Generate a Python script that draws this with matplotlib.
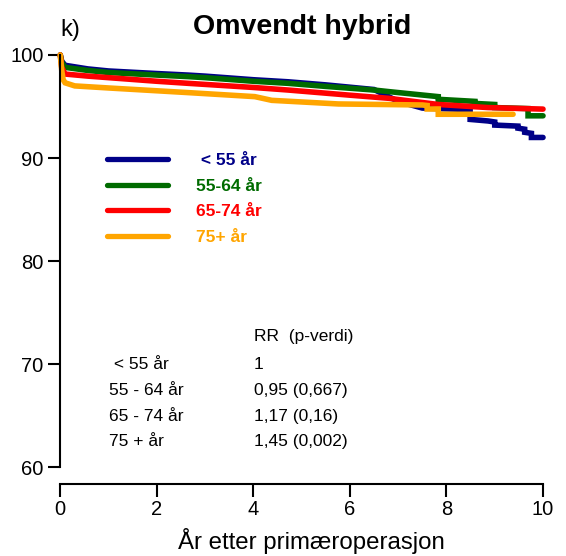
import matplotlib
matplotlib.use("Agg")
import matplotlib.pyplot as plt

plt.rcParams['font.family'] = ['Liberation Sans', 'DejaVu Sans']

# Survival (% without revision) per age group.
# Repeated time values mark the visible vertical steps.
t_lt55 = [0, 0.03, 0.1, 0.57, 1, 2, 2.65, 3, 4, 4.72, 5.5, 6.5, 7.0, 7.5, 8.49, 8.49, 8.86, 9.0, 9.0,
          9.48, 9.48, 9.62, 9.62, 9.76, 9.76, 10]
s_lt55 = [100, 99.4, 99.0, 98.65, 98.45, 98.2, 98.05, 97.95, 97.6, 97.4, 97.1, 96.65, 95.5, 94.85, 94.7,
          93.75, 93.6, 93.5, 93.2, 93.1, 92.9, 92.8, 92.5, 92.4, 92.0, 92.0]

t_5564 = [0, 0.03, 0.1, 0.57, 1, 2, 2.65, 3, 4, 4.72, 5.5, 6.5, 6.8, 7.83, 7.83, 8.59, 8.59, 9.0, 9.0,
          9.69, 9.69, 10]
s_5564 = [100, 99.3, 98.8, 98.5, 98.3, 98.05, 97.9, 97.8, 97.45, 97.25, 96.95, 96.6, 96.45, 95.96, 95.7,
          95.5, 95.3, 95.2, 94.9, 94.8, 94.1, 94.1]

t_6574 = [0, 0.03, 0.1, 0.57, 1, 2, 2.65, 4, 4.72, 6, 6.8, 7.83, 8.86, 10]
s_6574 = [100, 98.8, 98.15, 97.95, 97.8, 97.45, 97.25, 96.85, 96.6, 96.1, 95.8, 95.2, 94.9, 94.75]

t_75 = [0, 0.03, 0.06, 0.1, 0.3, 1, 2.65, 4.03, 4.38, 5.76, 7.5, 7.6, 7.6, 7.83, 7.83, 9.38]
s_75 = [100, 98.5, 97.6, 97.3, 97.0, 96.8, 96.35, 95.96, 95.6, 95.25, 95.15, 95.1, 94.76, 94.76, 94.25, 94.25]

labels = [' < 55 år', '55-64 år', '65-74 år', '75+ år']
colors = ['#000088', '#006B00', '#FF0000', '#FFA500']

rr_groups = [' < 55 år', '55 - 64 år', '65 - 74 år', '75 + år']
rr_values = ['1', '0,95 (0,667)', '1,17 (0,16)', '1,45 (0,002)']

fig = plt.figure(figsize=(5.66, 5.56), dpi=100)
ax = fig.add_axes([0.1065, 0.1595, 0.8529, 0.7416])

series = [(t_lt55, s_lt55), (t_5564, s_5564), (t_6574, s_6574), (t_75, s_75)]
for (t, s), lab, c in zip(series, labels, colors):
    ax.plot(t, s, color=c, lw=4, label=lab, clip_on=False,
            solid_capstyle='round', solid_joinstyle='miter')

ax.set_xlim(0, 10)
ax.set_ylim(60, 100)
ax.set_xticks([0, 2, 4, 6, 8, 10])
ax.set_yticks([60, 70, 80, 90, 100])
ax.spines['top'].set_visible(False)
ax.spines['right'].set_visible(False)
ax.spines['bottom'].set_position(('outward', 11.8))
for sp in ['left', 'bottom']:
    ax.spines[sp].set_linewidth(1.5)
ax.tick_params(width=1.5, length=9, labelsize=14.5, pad=3)

leg = ax.legend(loc='upper left', bbox_to_anchor=(0.0967, 0.762), frameon=False,
                labelcolor='linecolor', handlelength=3.5,
                handletextpad=1.6, labelspacing=0.6, borderpad=0, borderaxespad=0,
                prop={'weight': 'bold', 'size': 12.5})
for h in leg.get_lines():
    h.set_linewidth(3.8)
    h.set_solid_capstyle('round')

# RR table
ax.text(4.01, 72.68, 'RR  (p-verdi)', fontsize=12.5, va='center', ha='left')
row_y = [69.93, 67.41, 64.89, 62.46]
for g, v, y in zip(rr_groups, rr_values, row_y):
    ax.text(1.01, y, g, fontsize=12.5, va='center', ha='left')
    ax.text(4.01, y, v, fontsize=12.5, va='center', ha='left')

fig.text(0.5336, 0.951, 'Omvendt hybrid', fontsize=20.5, fontweight='bold',
         ha='center', va='center')
fig.text(0.106, 0.946, 'k)', fontsize=17, ha='left', va='center')
fig.text(0.551, 0.012, 'År etter primæroperasjon', fontsize=17.3, ha='center', va='baseline')

fig.savefig('out.png', dpi=100)
